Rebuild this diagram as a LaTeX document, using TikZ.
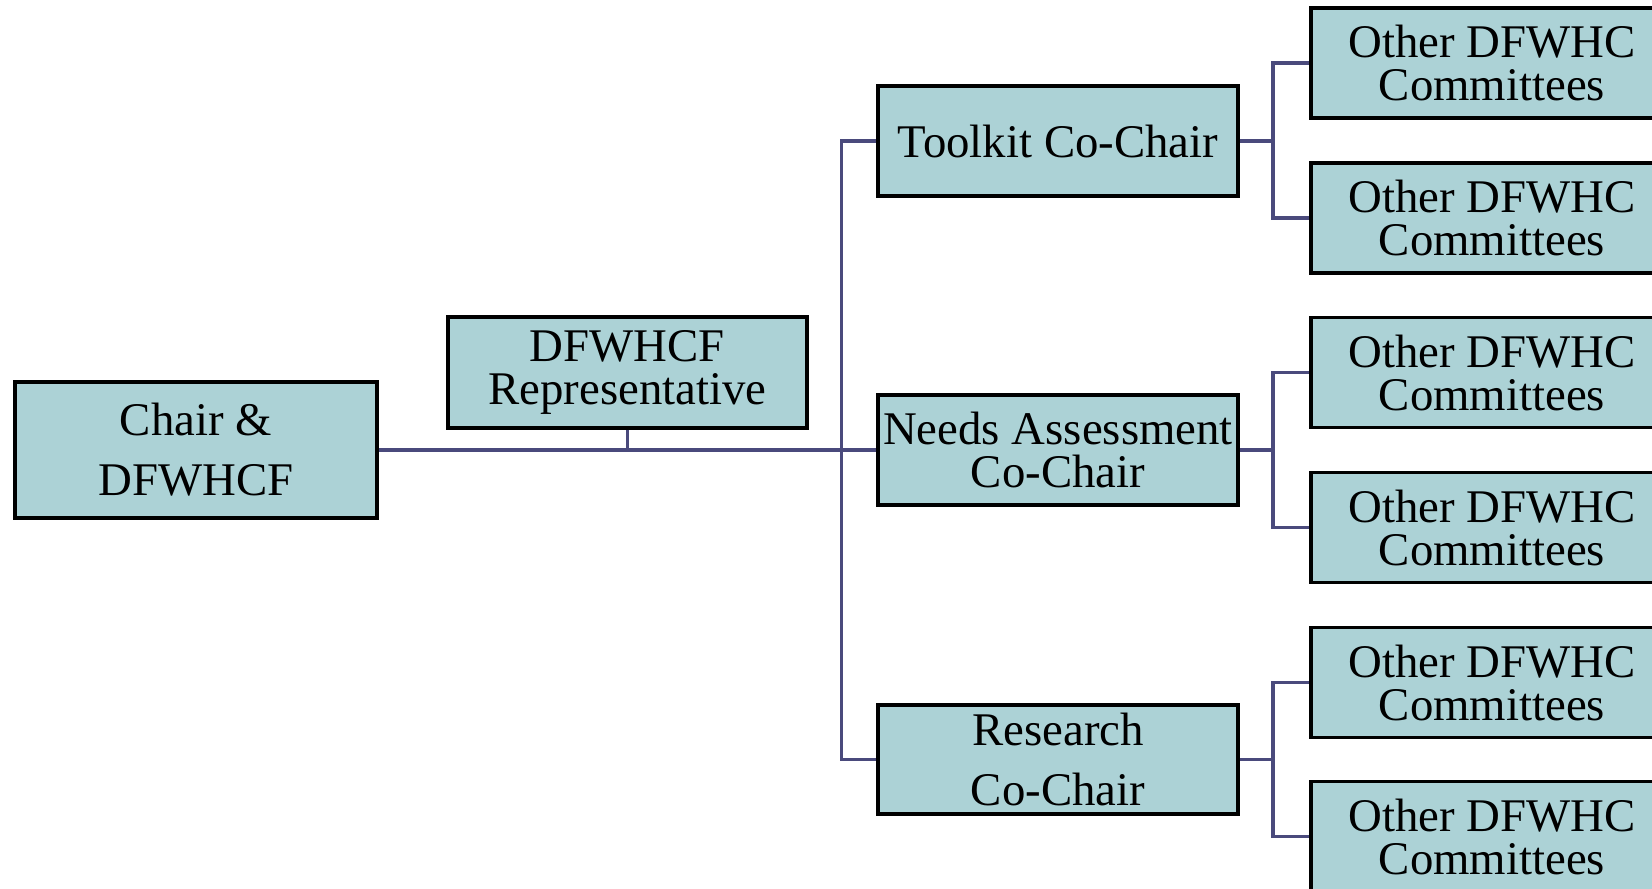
\documentclass[tikz,border=0pt]{standalone}
\usepackage{fontspec}
\setmainfont{Liberation Serif}
\definecolor{boxfill}{RGB}{172,210,214}
\definecolor{linkcol}{RGB}{74,74,124}
\begin{document}
\begin{tikzpicture}[x=0.5pt,y=-0.5pt,
  orgbox/.style={draw=black, line width=1.9pt, fill=boxfill, inner sep=0pt, align=center,
    minimum width=180pt, minimum height=55pt, font=\fontsize{23.4}{21.5}\selectfont},
  widebox/.style={orgbox, font=\fontsize{23.4}{30}\selectfont},
  link/.style={draw=linkcol, line width=1.6pt}]
\useasboundingbox (0,0) rectangle (1652,888);
\clip (0,0) rectangle (1652,888);
\node[widebox, minimum width=181pt, minimum height=68pt] (chair) at (196,450) {Chair \&\\DFWHCF};
\node[orgbox, minimum width=179.5pt, minimum height=55.5pt] (rep) at (627.5,372.5) {DFWHCF\\Representative};
\node[orgbox] (toolkit) at (1058,141) {Toolkit Co-Chair};
\node[orgbox] (needs) at (1058,450) {Needs Assessment\\Co-Chair};
\node[widebox, minimum height=54.5pt] (research) at (1058,759.5) {Research\\Co-Chair};
\foreach \n/\y in {o1/63, o2/218, o3/372.5, o4/527.5, o5/682.5, o6/836.5}
  \node[orgbox, minimum width=181pt, anchor=west] (\n) at (1309,\y) {Other DFWHC\\Committees};
\draw[link] (chair.east) -- (needs.west);
\draw[link] (rep.south) -- (rep.south |- chair.east);
\draw[link] (toolkit.west) -- ++(-35,0) coordinate (tk) |- (research.west);
\foreach \p/\a/\b in {toolkit/o1/o2, needs/o3/o4, research/o5/o6}{
  \draw[link] (\p.east) -- ++(35,0);
  \draw[link] (\a.west) -- ++(-36,0) |- (\b.west);
}
\end{tikzpicture}
\end{document}
